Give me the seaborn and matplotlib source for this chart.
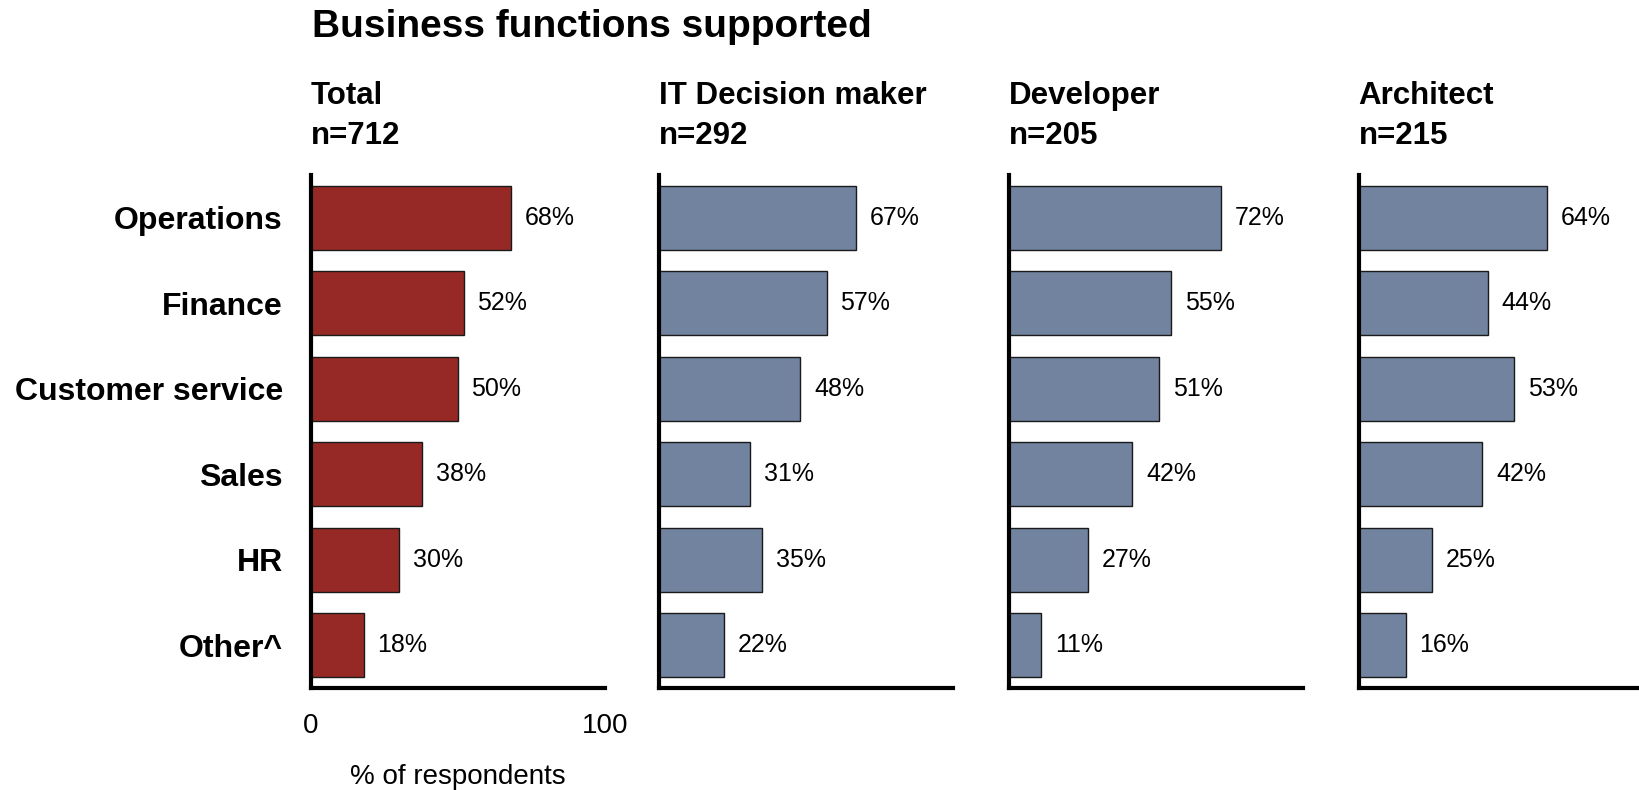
import seaborn as sns
import matplotlib.pyplot as plt
import pandas as pd

# Dados
functions = ["Operations", "Finance", "Customer service", "Sales", "HR", "Other^"]
groups = ["Total", "IT Decision maker", "Developer", "Architect"]
sample_sizes = [712, 292, 205, 215]
total = [68, 52, 50, 38, 30, 18]
it_decision = [67, 57, 48, 31, 35, 22]
developer = [72, 55, 51, 42, 27, 11]
architect = [64, 44, 53, 42, 25, 16]
series = [total, it_decision, developer, architect]

sns.set_style("white")
plt.rcParams["font.family"] = ["Liberation Sans", "DejaVu Sans"]
plt.rcParams["text.color"] = "black"
plt.rcParams["xtick.color"] = "black"
plt.rcParams["ytick.color"] = "black"
plt.rcParams["axes.labelcolor"] = "black"

red = "#962925"
blue = "#71839F"

fig = plt.figure(figsize=(16.4, 7.9), dpi=100)
fig.text(0.1905, 0.966, "Business functions supported", fontsize=28, fontweight="bold",
         ha="left", va="center")

lefts = [0.1894, 0.4018, 0.6152, 0.8284]
for i, (grp, n, vals) in enumerate(zip(groups, sample_sizes, series)):
    ax = fig.add_axes([lefts[i], 0.1291, 0.1793, 0.6494])
    df = pd.DataFrame({"function": functions, "value": vals})
    sns.barplot(data=df, x="value", y="function", ax=ax, color=red if i == 0 else blue,
                edgecolor="#1a1a1a", linewidth=1, width=0.75, saturation=1)
    ax.set_xlim(0, 100)
    ax.set_ylim(5.5, -0.5)
    for c in ax.containers:
        ax.bar_label(c, fmt="{:.0f}%", padding=10, fontsize=18)
    for s in ["top", "right"]:
        ax.spines[s].set_visible(False)
    for s in ["left", "bottom"]:
        ax.spines[s].set_linewidth(3)
        ax.spines[s].set_color("black")
    ax.tick_params(length=0)
    ax.set_ylabel("")
    ax.text(0, 1.115, f"{grp}\nn={n}", transform=ax.transAxes, fontsize=22.5,
            fontweight="bold", ha="left", va="center", linespacing=1.45)
    if i == 0:
        ax.set_xticks([0, 100])
        ax.tick_params(axis="x", labelsize=20, pad=18)
        ax.tick_params(axis="y", labelsize=23, pad=20)
        for lbl in ax.get_yticklabels():
            lbl.set_fontweight("bold")
        ax.set_xlabel("% of respondents", fontsize=20, labelpad=18)
    else:
        ax.set_xticks([])
        ax.set_yticks([])
        ax.set_xlabel("")

fig.savefig("out.png", dpi=100)
